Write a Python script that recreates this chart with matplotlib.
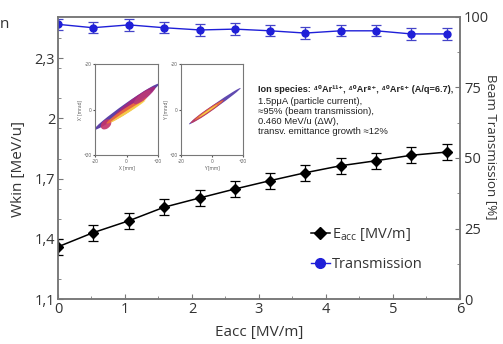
import matplotlib.pyplot as plt
from matplotlib.patches import Ellipse
from matplotlib.ticker import MultipleLocator
from matplotlib.lines import Line2D

# energy gain vs accelerating field
eacc = [0.0, 0.52, 1.06, 1.58, 2.12, 2.64, 3.17, 3.69, 4.22, 4.75, 5.27, 5.80]
wkin = [1.360, 1.430, 1.490, 1.557, 1.604, 1.648, 1.690, 1.729, 1.764, 1.789, 1.816, 1.832]
wkin_err = [0.04, 0.04, 0.04, 0.04, 0.04, 0.04, 0.04, 0.04, 0.04, 0.04, 0.04, 0.04]
trans = [97.4, 96.2, 97.2, 96.2, 95.4, 95.7, 95.1, 94.3, 95.1, 95.1, 94.0, 94.0]
trans_err = [2.0, 2.0, 2.0, 2.0, 2.0, 2.0, 2.0, 2.0, 2.0, 2.0, 2.0, 2.0]

wkin_ticks = [1.1, 1.4, 1.7, 2.0, 2.3]
wkin_labels = ['1,1', '1,4', '1,7', '2', '2,3']
trans_ticks = [0, 25, 50, 75, 100]
x_ticks = [0, 1, 2, 3, 4, 5, 6]

# phase-space insets: ellipses (cx, cy, width, height, angle)
xx_ell = [(0, -1.2, 46, 3.2, -26), (5, -3.0, 30, 4.0, -27), (-13, 6.5, 7, 4.0, -20),
          (0, 0.4, 28, 2.5, -24), (1, 0.8, 24, 1.2, -23.5), (10, -5.5, 12, 3.0, -28)]
xx_col = ['#4b2c9e', '#a8287a', '#c4346a', '#ef6f3a', '#f7d64a', '#b83a78']
yy_ell = [(1.8, -1.5, 37, 1.8, -25.4), (-3, 0.8, 24, 2.0, -25),
          (-2, 0.3, 20, 1.2, -25), (-2.5, 0.6, 13, 0.6, -25)]
yy_col = ['#4f36a8', '#c23a5c', '#ef8034', '#f5df4c']

info_lines = ['1.5pμA (particle current),', '≈95% (beam transmission),',
              '0.460 MeV/u (ΔW),', 'transv. emittance growth ≈12%']

plt.rcParams['font.family'] = ['Open Sans', 'DejaVu Sans']
plt.rcParams['mathtext.fontset'] = 'custom'
plt.rcParams['mathtext.rm'] = 'Open Sans'
plt.rcParams['mathtext.it'] = 'Open Sans:italic'

txt = '#333333'
spine = '#777777'

fig = plt.figure(figsize=(5.03, 3.44), dpi=100)
ax = fig.add_axes([0.1153, 0.1308, 0.7992, 0.8198])
ax2 = ax.twinx()

ax.errorbar(eacc, wkin, yerr=wkin_err, color='black', marker='D', ms=5.5,
            lw=1.1, elinewidth=0.9, capsize=3.5, capthick=0.9, zorder=3)
ax2.errorbar(eacc, trans, yerr=trans_err, color='#1f1fd8', marker='o', ms=5,
             lw=1.0, ecolor='#4444c8', elinewidth=0.9, capsize=3.5, capthick=0.9)

ax.set_xlim(0, 6)
ax.set_ylim(1.1, 2.505)
ax2.set_ylim(0, 100)
ax.set_xticks(x_ticks)
ax.xaxis.set_minor_locator(MultipleLocator(0.5))
ax.set_yticks(wkin_ticks)
ax.set_yticklabels(wkin_labels)
ax.yaxis.set_minor_locator(MultipleLocator(0.15))
ax2.set_yticks(trans_ticks)
ax2.yaxis.set_minor_locator(MultipleLocator(12.5))

for a in (ax, ax2):
    for s in a.spines.values():
        s.set_color(spine)
        s.set_linewidth(1.1)
    a.tick_params(which='both', direction='in', colors=spine, labelcolor=txt,
                  labelsize=10.5)
    a.tick_params(which='major', length=3.5)
    a.tick_params(which='minor', length=2.5)
ax.tick_params(axis='y', pad=2)
ax.tick_params(axis='x', pad=2)
ax2.tick_params(axis='y', pad=3)

ax.set_xlabel('Eacc [MV/m]', fontsize=11, color=txt, labelpad=6)
ax.set_ylabel('Wkin [MeV/u]', fontsize=11, color=txt)
ax.yaxis.set_label_coords(-0.08, 0.46)
ax2.set_ylabel('Beam Transmission [%]', fontsize=9.5, color=txt, rotation=270,
               labelpad=14)
ax2.yaxis.set_label_coords(1.095, 0.54)

handles = [Line2D([], [], color='black', marker='D', ms=6, lw=1.1),
           Line2D([], [], color='#1f1fd8', marker='o', ms=7, lw=1.0)]
ax2.legend(handles, ['E$_{\\mathrm{acc}}$ [MV/m]', 'Transmission'],
           loc='upper left', bbox_to_anchor=(0.618, 0.342),
           bbox_transform=fig.transFigure, frameon=False, fontsize=10.5,
           handlelength=1.3, handletextpad=0.15, borderpad=0, borderaxespad=0,
           labelspacing=0.95, labelcolor=txt)

# insets
for pos, ells, cols, lab in [([0.189, 0.549, 0.125, 0.265], xx_ell, xx_col, 'X'),
                             ([0.360, 0.549, 0.123, 0.265], yy_ell, yy_col, 'Y')]:
    ia = fig.add_axes(pos)
    ia.set_xlim(-20, 20)
    ia.set_ylim(20, -20)
    for (cx, cy, w, h, ang), c in zip(ells, cols):
        ia.add_patch(Ellipse((cx, cy), w, h, angle=ang, color=c, alpha=0.9, lw=0))
    ia.set_xticks([-20, 0, 20])
    ia.set_xticklabels(['-20', '0', '+20'])
    ia.set_yticks([-20, 0, 20])
    ia.set_yticklabels(['-20', '0', '+20'])
    ia.tick_params(labelsize=3.4, length=1.5, pad=1, colors='#555555')
    ia.set_xlabel(lab + ' [mm]', fontsize=3.4, labelpad=1, color='#555555')
    ia.set_ylabel(lab + "' [mrad]", fontsize=3.4, labelpad=1, color='#555555')
    for s in ia.spines.values():
        s.set_color('#777777')
        s.set_linewidth(0.8)

fig.text(0.512, 1 - 89 / 344, 'Ion species: ⁴⁰Ar¹¹⁺, ⁴⁰Ar⁸⁺, ⁴⁰Ar⁶⁺ (A/q=6.7),',
         family=['Liberation Sans', 'DejaVu Sans'], fontsize=6.6, weight='bold',
         color='#222222', va='center')
for i, line in enumerate(info_lines):
    fig.text(0.512, 1 - (101 + 10 * i) / 344, line,
             family=['Liberation Sans', 'DejaVu Sans'], fontsize=6.8,
             color='#222222', va='center')

fig.text(0.0, 1 - 24 / 344, 'n', fontsize=11, color=txt, va='center')

fig.savefig('out.png', dpi=100)
